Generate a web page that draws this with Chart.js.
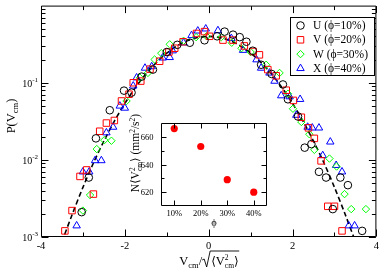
<!DOCTYPE html>
<html><head><meta charset="utf-8">
<script src="https://cdn.jsdelivr.net/npm/chart.js@4.4.1/dist/chart.umd.min.js"></script>
<style>
html,body{margin:0;padding:0;background:#fff;}
#wrap{position:relative;width:382px;height:269px;overflow:hidden;}
#main{position:absolute;left:0;top:0;}
#inset{position:absolute;left:120px;top:95px;}
</style></head><body>
<div id="wrap"><canvas id="main" width="382" height="269"></canvas><canvas id="inset" width="155" height="140"></canvas></div>
<script>
// ---------- data ----------
const seriesNames = ['U (\u03D5=10%)', 'V (\u03D5=20%)', 'W (\u03D5=30%)', 'X (\u03D5=40%)'];

const uX = [-3.03,-2.86,-2.69,-2.36,-2.02,-1.84,-1.6,-1.33,-1.0,-0.75,-0.45,-0.1,0.2,0.38,0.58,0.74,0.9,1.05,1.25,1.5,1.77,1.89,2.13,2.29,2.45,2.63,2.8,2.96,3.14,3.32,3.66];
const uY = [0.0021,0.0059,0.019,0.044,0.079,0.0745,0.12,0.148,0.25,0.31,0.33,0.355,0.40,0.46,0.42,0.39,0.34,0.26,0.171,0.13,0.095,0.061,0.0365,0.0144,0.016,0.007,0.0059,0.0023,0.0059,0.0047,0.0012];

const vX = [-3.43,-3.26,-3.07,-2.91,-2.75,-2.6,-2.44,-2.25,-2.08,-1.9,-1.8,-1.62,-1.4,-1.17,-0.95,-0.81,-0.61,-0.29,-0.1,0.02,0.34,0.58,0.85,1.06,1.21,1.41,1.61,1.85,2.02,2.21,2.38,2.52,2.68,2.84,3.0,3.18];
const vY = [0.0012,0.0022,0.0061,0.0074,0.0036,0.0235,0.030,0.0324,0.058,0.071,0.10,0.105,0.15,0.19,0.25,0.28,0.34,0.435,0.46,0.40,0.357,0.357,0.30,0.254,0.23,0.148,0.123,0.08,0.059,0.0357,0.026,0.019,0.0097,0.0025,0.0025,0.0012];

const wX = [-3.0,-2.83,-2.67,-2.49,-2.32,-1.96,-1.64,-1.45,-1.29,-1.13,-0.93,-0.6,-0.3,-0.05,0.3,0.55,0.78,1.0,1.37,1.69,1.89,2.01,2.21,2.4,2.52,2.88,3.05,3.24,3.4,3.75];
const wY = [0.0022,0.0035,0.0138,0.018,0.0177,0.058,0.116,0.134,0.2,0.242,0.315,0.35,0.39,0.40,0.39,0.33,0.28,0.25,0.171,0.134,0.072,0.046,0.031,0.0215,0.0135,0.0104,0.0082,0.0036,0.0023,0.0023];

const xX = [-3.15,-3.0,-2.85,-2.71,-2.56,-2.44,-2.28,-2.12,-2.0,-1.8,-1.72,-1.52,-1.36,-1.1,-0.93,-0.86,-0.6,-0.41,-0.26,-0.07,0.22,0.54,0.82,1.14,1.25,1.45,1.57,1.73,1.93,2.09,2.18,2.36,2.47,2.63,2.72,2.9,3.04,3.18,3.34,3.48];
const xY = [0.0014,0.0070,0.0070,0.0098,0.0098,0.0225,0.0266,0.050,0.047,0.091,0.116,0.155,0.162,0.21,0.213,0.26,0.33,0.41,0.47,0.50,0.475,0.376,0.264,0.199,0.155,0.134,0.105,0.068,0.066,0.038,0.061,0.0266,0.026,0.026,0.0114,0.0171,0.0085,0.0070,0.0014,0.0014];

// dashed reference curve
const fitX = [-3.5,-3.25,-3.0,-2.75,-2.5,-2.25,-2.0,-1.75,-1.5,-1.25,-1.0,-0.75,-0.5,-0.25,0,0.25,0.5,0.75,1.0,1.25,1.5,1.75,2.0,2.25,2.5,2.75,3.0,3.25,3.5];
const fitY = [0.00087,0.0020,0.0044,0.0091,0.0175,0.0317,0.054,0.0863,0.1295,0.1826,0.242,0.301,0.352,0.387,0.399,0.387,0.352,0.301,0.242,0.1826,0.1295,0.0863,0.054,0.0317,0.0175,0.0091,0.0044,0.0020,0.00087];

// axis ticks
const xMajor = [-4,-2,0,2,4];
const xTickLabels = ['-4','-2','0','2','4'];
const xMinor = [-3,-1,1,3];
const yMajor = [0.001,0.01,0.1];
const yTickExp = ['-3','-2','-1'];
const yMinor = [0.002,0.003,0.004,0.005,0.006,0.007,0.008,0.009,0.02,0.03,0.04,0.05,0.06,0.07,0.08,0.09,0.2,0.3,0.4,0.5,0.6,0.7,0.8,0.9];

// inset
const insetPhi = [10,20,30,40];
const insetN = [666,653,629,620];
const insetXTicks = [10,20,30,40];
const insetXLabels = ['10%','20%','30%','40%'];
const insetYMajor = [620,640,660];
const insetYMinor = [630,650];

// ---------- helpers ----------
const SERIF = '"Liberation Serif", "Times New Roman", "DejaVu Serif", serif';
const zip = (xs, ys) => xs.map((x, i) => ({x, y: ys[i]}));

function segW(ctx, s) {
  if (s.radical) return s.w;
  if (s.stack) return Math.max(...s.stack.map(q => { ctx.font = q.size + 'px ' + SERIF; return ctx.measureText(q.t).width; }));
  ctx.font = s.size + 'px ' + SERIF;
  return ctx.measureText(s.t).width + (s.extra || 0);
}
function drawRich(ctx, segs, x, y, align) {
  const ws = segs.map(s => segW(ctx, s));
  const total = ws.reduce((a, b) => a + b, 0);
  let cx = align === 'center' ? x - total / 2 : align === 'right' ? x - total : x;
  let radStart = null, radH = 13;
  ctx.textAlign = 'left'; ctx.textBaseline = 'alphabetic';
  segs.forEach((s, i) => {
    if (s.radical) { radStart = cx; radH = s.h; }
    else if (s.stack) s.stack.forEach(q => { ctx.font = q.size + 'px ' + SERIF; ctx.fillText(q.t, cx, y + (q.dy || 0)); });
    else { ctx.font = s.size + 'px ' + SERIF; ctx.fillText(s.t, cx, y + (s.dy || 0)); }
    cx += ws[i];
  });
  if (radStart !== null) {
    ctx.beginPath();
    ctx.moveTo(radStart, y - 5);
    ctx.lineTo(radStart + 2, y - 6);
    ctx.lineTo(radStart + 4.5, y + 2);
    ctx.lineTo(radStart + 8, y - radH);
    ctx.lineTo(cx + 0.5, y - radH);
    ctx.lineWidth = 0.9; ctx.stroke();
  }
}
function marker(ctx, style, r, x, y) {
  ctx.beginPath();
  if (style === 'circle') ctx.arc(x, y, r, 0, Math.PI * 2);
  else if (style === 'rect') { const s = Math.SQRT1_2 * r; ctx.rect(x - s, y - s, 2 * s, 2 * s); }
  else if (style === 'rectRot') { ctx.moveTo(x - r, y); ctx.lineTo(x, y - r); ctx.lineTo(x + r, y); ctx.lineTo(x, y + r); ctx.closePath(); }
  else if (style === 'triangle') {
    let a = 0; ctx.moveTo(x + Math.sin(a) * r, y - Math.cos(a) * r);
    a += 2 * Math.PI / 3; ctx.lineTo(x + Math.sin(a) * r, y - Math.cos(a) * r);
    a += 2 * Math.PI / 3; ctx.lineTo(x + Math.sin(a) * r, y - Math.cos(a) * r);
    ctx.closePath();
  }
  ctx.stroke();
}

// ---------- main chart ----------
const styles = [
  {style: 'circle', r: 3.8, color: '#000000'},
  {style: 'rect', r: 4.6, color: '#ff0000'},
  {style: 'rectRot', r: 3.7, color: '#00ff00'},
  {style: 'triangle', r: 4.3, color: '#0000ff'}
];
const seriesData = [zip(uX, uY), zip(vX, vY), zip(wX, wY), zip(xX, xY)];

const mainDecor = {
  id: 'mainDecor',
  beforeDraw(chart) {
    const ctx = chart.ctx; ctx.save(); ctx.fillStyle = '#fff'; ctx.fillRect(0, 0, chart.width, chart.height); ctx.restore();
  },
  afterDraw(chart) {
    const {ctx, chartArea: a} = chart; const xs = chart.scales.x, ys = chart.scales.y;
    ctx.save();
    ctx.strokeStyle = '#000'; ctx.fillStyle = '#000'; ctx.lineWidth = 1;
    const L = a.left + 0.5, R = a.right - 0.5, T = a.top + 0.5, B = a.bottom - 0.5;
    ctx.beginPath();
    ctx.rect(L, T, R - L, B - T);
    const vt = (v, len) => { const p = Math.round(xs.getPixelForValue(v)) + 0.5; ctx.moveTo(p, B); ctx.lineTo(p, B - len); ctx.moveTo(p, T); ctx.lineTo(p, T + len); };
    const ht = (v, len) => { const p = Math.round(ys.getPixelForValue(v)) + 0.5; ctx.moveTo(L, p); ctx.lineTo(L + len, p); ctx.moveTo(R, p); ctx.lineTo(R - len, p); };
    xMajor.forEach(v => vt(v, 7)); xMinor.forEach(v => vt(v, 4));
    yMajor.forEach(v => ht(v, 7)); yMinor.forEach(v => ht(v, 4));
    ctx.stroke();

    // x tick labels
    ctx.font = '10.5px ' + SERIF; ctx.textAlign = 'center'; ctx.textBaseline = 'alphabetic';
    xMajor.forEach((v, i) => ctx.fillText(xTickLabels[i], xs.getPixelForValue(v), a.bottom + 11.5));
    // y tick labels 10^n
    yMajor.forEach((v, i) => {
      const p = ys.getPixelForValue(v);
      drawRich(ctx, [{t: '10', size: 10}, {t: yTickExp[i], size: 7, dy: -5}], 38, p + 4, 'right');
    });
    // axis titles
    drawRich(ctx, [
      {t: 'V', size: 12.5}, {t: 'cm', size: 8.5, dy: 3}, {t: '/', size: 12.5},
      {radical: true, w: 9, h: 14}, {t: '\u27E8', size: 12}, {t: 'V', size: 12.5},
      {stack: [{t: '2', size: 7.5, dy: -5}, {t: 'cm', size: 7.5, dy: 3}]}, {t: '\u27E9', size: 12}
    ], 209, 265, 'center');
    ctx.save();
    ctx.translate(15, 116); ctx.rotate(-Math.PI / 2);
    drawRich(ctx, [{t: 'P(V', size: 12.5}, {t: 'cm', size: 8.5, dy: 3}, {t: ')', size: 12.5}], 0, 0, 'center');
    ctx.restore();

    // legend
    const lx = 290.5, ly = 17.5, lw = 84, lh = 58;
    ctx.fillStyle = '#fff'; ctx.fillRect(lx, ly, lw, lh);
    ctx.strokeStyle = '#000'; ctx.lineWidth = 1; ctx.strokeRect(lx, ly, lw, lh);
    chart.data.datasets.forEach((ds, i) => {
      if (i >= 4) return;
      const yy = 25.5 + i * 14.3;
      ctx.strokeStyle = ds.borderColor; ctx.lineWidth = 1;
      marker(ctx, ds.pointStyle, ds.pointRadius, 300.5, yy);
      ctx.fillStyle = '#000'; ctx.font = '11.5px ' + SERIF; ctx.textAlign = 'left'; ctx.textBaseline = 'middle';
      ctx.fillText(ds.label, 313, yy + 0.5);
    });
    ctx.restore();
  }
};

const datasets = seriesData.map((d, i) => ({
  type: 'scatter', label: seriesNames[i], data: d,
  pointStyle: styles[i].style, pointRadius: styles[i].r, pointHoverRadius: styles[i].r,
  borderColor: styles[i].color, backgroundColor: 'rgba(0,0,0,0)', borderWidth: 1, showLine: false
}));
datasets.push({
  type: 'line', label: 'fit', data: zip(fitX, fitY), borderColor: '#000', borderWidth: 1.6,
  borderDash: [5, 3], pointRadius: 0, tension: 0.3, fill: false
});

new Chart(document.getElementById('main'), {
  data: {datasets},
  options: {
    responsive: false, animation: false, devicePixelRatio: 1,
    layout: {padding: {top: 1, right: 5, left: 0, bottom: 0}},
    plugins: {legend: {display: false}, tooltip: {enabled: false}},
    scales: {
      x: {type: 'linear', min: -4, max: 4, grid: {display: false}, border: {display: false},
          ticks: {display: false}, afterFit(s) { s.height = 32; }},
      y: {type: 'logarithmic', min: 0.001, max: 1, grid: {display: false}, border: {display: false},
          ticks: {display: false}, afterFit(s) { s.width = 41; }}
    }
  },
  plugins: [mainDecor]
});

// ---------- inset chart ----------
const insetDecor = {
  id: 'insetDecor',
  beforeDatasetsDraw(chart) {
    const {ctx, chartArea: a} = chart; ctx.save(); ctx.fillStyle = '#fff';
    ctx.fillRect(a.left, a.top, a.right - a.left, a.bottom - a.top); ctx.restore();
  },
  afterDraw(chart) {
    const {ctx, chartArea: a} = chart; const xs = chart.scales.x, ys = chart.scales.y;
    ctx.save();
    ctx.strokeStyle = '#000'; ctx.fillStyle = '#000'; ctx.lineWidth = 1;
    const L = a.left + 0.5, R = a.right - 0.5, T = a.top + 0.5, B = a.bottom - 0.5;
    ctx.beginPath(); ctx.rect(L, T, R - L, B - T);
    insetXTicks.forEach(v => { const p = Math.round(xs.getPixelForValue(v)) + 0.5; ctx.moveTo(p, B); ctx.lineTo(p, B - 5); ctx.moveTo(p, T); ctx.lineTo(p, T + 5); });
    const ht = (v, len) => { const p = Math.round(ys.getPixelForValue(v)) + 0.5; ctx.moveTo(L, p); ctx.lineTo(L + len, p); ctx.moveTo(R, p); ctx.lineTo(R - len, p); };
    insetYMajor.forEach(v => ht(v, 5)); insetYMinor.forEach(v => ht(v, 3));
    ctx.stroke();
    ctx.font = '8.5px ' + SERIF; ctx.textBaseline = 'alphabetic';
    ctx.textAlign = 'center';
    insetXTicks.forEach((v, i) => ctx.fillText(insetXLabels[i], xs.getPixelForValue(v), a.bottom + 9.5));
    ctx.textAlign = 'right';
    insetYMajor.forEach(v => ctx.fillText(String(v), 33.5, ys.getPixelForValue(v) + 3));
    ctx.font = '10.5px ' + SERIF; ctx.textAlign = 'center';
    ctx.fillText('\u03D5', (a.left + a.right) / 2, a.bottom + 19.5);
    ctx.save();
    ctx.translate(19, 58); ctx.rotate(-Math.PI / 2);
    drawRich(ctx, [
      {t: 'N\u27E8V', size: 11.5}, {stack: [{t: '2', size: 7.5, dy: -4.5}, {t: 'cm', size: 7.5, dy: 3}]},
      {t: '\u27E9 (mm', size: 11.5}, {t: '2', size: 7.5, dy: -4.5}, {t: '/s', size: 11.5}, {t: '2', size: 7.5, dy: -4.5}, {t: ')', size: 11.5}
    ], 0, 0, 'center');
    ctx.restore();
    ctx.restore();
  }
};

new Chart(document.getElementById('inset'), {
  type: 'scatter',
  data: {datasets: [{data: zip(insetPhi, insetN), pointRadius: 3.6, pointHoverRadius: 3.6,
    backgroundColor: '#ff0000', borderColor: '#ff0000', borderWidth: 0}]},
  options: {
    responsive: false, animation: false, devicePixelRatio: 1,
    layout: {padding: {top: 28, right: 8, left: 0, bottom: 0}},
    plugins: {legend: {display: false}, tooltip: {enabled: false}},
    scales: {
      x: {type: 'linear', min: 5, max: 45, grid: {display: false}, border: {display: false},
          ticks: {display: false}, afterFit(s) { s.height = 29; }},
      y: {type: 'linear', min: 610, max: 670, grid: {display: false}, border: {display: false},
          ticks: {display: false}, afterFit(s) { s.width = 41; }}
    }
  },
  plugins: [insetDecor]
});
</script>
</body></html>
